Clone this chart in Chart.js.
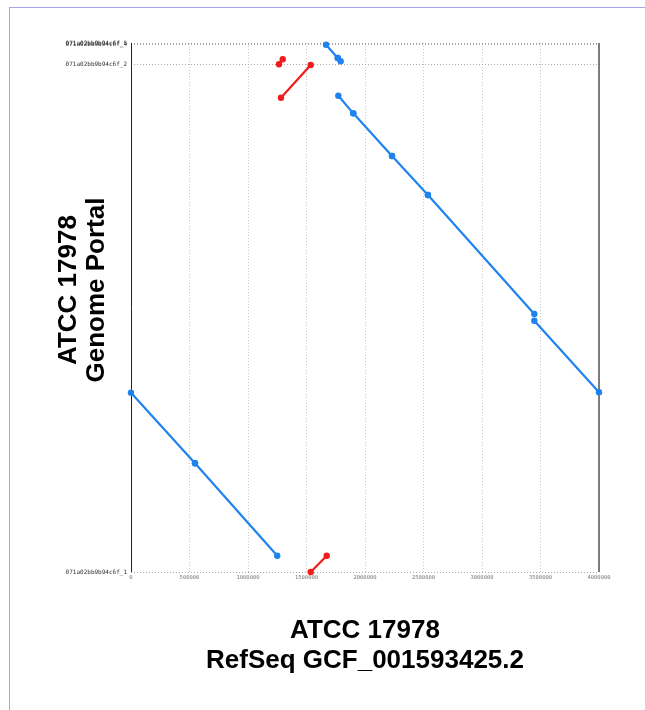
<!DOCTYPE html>
<html>
<head>
<meta charset="utf-8">
<script src="https://cdn.jsdelivr.net/npm/chart.js@4.4.1/dist/chart.umd.min.js"></script>
<style>
  html, body { margin: 0; padding: 0; background: #fff; }
  #wrap { position: relative; width: 645px; height: 710px; overflow: hidden; }
  #frame { position: absolute; left: 9px; top: 7px; width: 700px; height: 720px;
           border-top: 1px solid #a4a4ee; border-left: 1px solid #a4a4ee; }
  canvas { position: absolute; left: 0; top: 0; }
</style>
</head>
<body>
<div id="wrap">
  <div id="frame"></div>
  <canvas id="c" width="645" height="710"></canvas>
</div>
<script>
// ---- data (bp coordinates) ----
const xTickValues = [0, 500000, 1000000, 1500000, 2000000, 2500000, 3000000, 3500000, 4000000];
const xTickLabels = ["0", "500000", "1000000", "1500000", "2000000", "2500000", "3000000", "3500000", "4000000"];
const yContigStarts = [0, 3837000, 3989000, 3993000];
const yContigLabels = ["071a02bb9b94c6f_1", "071a02bb9b94c6f_2", "071a02bb9b94c6f_4", "071a02bb9b94c6f_5"];
const X_MAX = 4000000;
const Y_MAX = 4000000;

// reverse-strand alignments (blue): [xStart, yStart, xEnd, yEnd]
const reverseSegments = [
  [0, 1356000, 547000, 822000],
  [547000, 822000, 1250000, 123000],
  [1772000, 3601000, 1900000, 3468000],
  [1900000, 3468000, 2231000, 3145000],
  [2231000, 3145000, 2538000, 2851000],
  [2538000, 2851000, 3447000, 1951000],
  [3447000, 1900000, 4000000, 1359000],
  [1667000, 3987000, 1767000, 3887000],
  [1767000, 3887000, 1792000, 3862000]
];
// forward-strand alignments (red)
const forwardSegments = [
  [1265000, 3839000, 1297000, 3877000],
  [1282000, 3586000, 1536000, 3834000],
  [1536000, 0, 1673000, 123000]
];

const BLUE = '#1f82ee';
const RED = '#f01c1c';

function segDatasets(segs, color) {
  return segs.map(s => ({
    type: 'line',
    data: [{x: s[0], y: s[1]}, {x: s[2], y: s[3]}],
    borderColor: color,
    backgroundColor: color,
    borderWidth: 2.2,
    pointRadius: 3.2,
    pointHoverRadius: 3.2,
    pointBorderWidth: 0,
    showLine: true,
    fill: false,
    clip: false
  }));
}

const framePlugin = {
  id: 'frame',
  beforeDatasetsDraw(chart) {
    const {ctx, chartArea: a} = chart;
    ctx.save();
    ctx.strokeStyle = '#999';
    ctx.lineWidth = 1;
    ctx.setLineDash([1, 2]);
    ctx.beginPath(); ctx.moveTo(a.left, a.top + 0.5); ctx.lineTo(a.right, a.top + 0.5); ctx.stroke();
    ctx.setLineDash([]);
    ctx.strokeStyle = '#222';
    ctx.beginPath(); ctx.moveTo(a.left + 0.5, a.top); ctx.lineTo(a.left + 0.5, a.bottom); ctx.stroke();
    ctx.strokeStyle = '#555';
    ctx.lineWidth = 1.5;
    ctx.beginPath(); ctx.moveTo(a.right, a.top); ctx.lineTo(a.right, a.bottom); ctx.stroke();
    ctx.restore();
  },
  afterDraw(chart) {
    const {ctx, chartArea: a} = chart;
    ctx.save();
    ctx.fillStyle = '#000';
    ctx.font = 'bold 26px "Liberation Sans", Arial, sans-serif';
    ctx.textAlign = 'center';
    ctx.textBaseline = 'middle';
    const cx = (a.left + a.right) / 2;
    ctx.fillText('ATCC 17978', cx, 631);
    ctx.fillText('RefSeq GCF_001593425.2', cx, 661);
    ctx.translate(0, 290);
    ctx.rotate(-Math.PI / 2);
    ctx.fillText('ATCC 17978', 0, 69);
    ctx.fillText('Genome Portal', 0, 97);
    ctx.restore();
  }
};

new Chart(document.getElementById('c'), {
  type: 'scatter',
  data: { datasets: [...segDatasets(reverseSegments, BLUE), ...segDatasets(forwardSegments, RED)] },
  options: {
    responsive: false,
    animation: false,
    devicePixelRatio: 1,
    layout: { padding: { top: 43, right: 46, bottom: 0, left: 0 } },
    plugins: { legend: { display: false }, tooltip: { enabled: false }, title: { display: false } },
    scales: {
      x: {
        type: 'linear',
        min: 0, max: X_MAX,
        afterBuildTicks: s => { s.ticks = xTickValues.map(v => ({value: v})); },
        afterFit: s => { s.height = 138; },
        ticks: {
          autoSkip: false, maxRotation: 0, padding: 2,
          font: { family: '"DejaVu Sans Mono", monospace', size: 5.5 },
          color: '#777',
          callback: (v, i) => xTickLabels[i]
        },
        grid: { color: '#c8c8c8', lineWidth: 1, drawTicks: false },
        border: { display: false, dash: [1, 2] }
      },
      y: {
        type: 'linear',
        min: 0, max: Y_MAX,
        afterBuildTicks: s => { s.ticks = yContigStarts.map(v => ({value: v})); },
        afterFit: s => { s.width = 131; },
        ticks: {
          autoSkip: false, padding: 4,
          font: { family: '"DejaVu Sans Mono", monospace', size: 6 },
          color: '#333',
          callback: (v, i) => yContigLabels[i]
        },
        grid: { color: '#aaa', lineWidth: 1, drawTicks: false },
        border: { display: false, dash: [1, 2] }
      }
    }
  },
  plugins: [framePlugin]
});
</script>
</body>
</html>
